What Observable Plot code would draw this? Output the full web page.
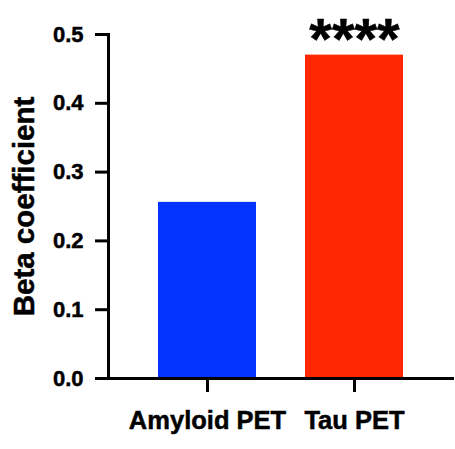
<!DOCTYPE html>
<html>
<head>
<meta charset="utf-8">
<script src="https://cdn.jsdelivr.net/npm/d3@7"></script>
<script src="https://cdn.jsdelivr.net/npm/@observablehq/plot@0.6"></script>
<style>
  html, body { margin: 0; padding: 0; background: #fff; }
  #chart svg { font-family: "Liberation Sans", Arial, Helvetica, sans-serif; font-weight: bold; }
  #chart svg g[aria-label$="tick label"] text,
  #chart svg g[aria-label$="axis label"] text,
  #chart svg g[aria-label="text"] text { stroke: #000; stroke-width: 0.5px; }
</style>
</head>
<body>
<div id="chart"></div>
<script>
// Beta coefficients by PET modality
const categories = ["Amyloid PET", "Tau PET"];
const betas = [0.256, 0.470];
const barColors = ["#0433FF", "#FF2600"];
const yTicks = [0, 0.1, 0.2, 0.3, 0.4, 0.5];
const significance = ["", "****"];

const data = categories.map((c, i) => ({category: c, beta: betas[i], sig: significance[i]}));

const chart = Plot.plot({
  width: 455,
  height: 449,
  marginTop: 34,
  marginBottom: 71,
  marginLeft: 108,
  marginRight: 3,
  style: {background: "#fff", color: "#000"},
  x: {domain: categories, padding: 0.335},
  y: {domain: [0, 0.5]},
  color: {domain: categories, range: barColors},
  marks: [
    Plot.barY(data, {x: "category", y: "beta", fill: "category"}),
    Plot.text(data, {
      x: "category", y: "beta", text: "sig",
      fontSize: 58, fontWeight: "bold", lineAnchor: "bottom", dy: 4, fill: "#000"
    }),
    Plot.axisY({
      ticks: yTicks, tickFormat: d3.format(".1f"),
      tickSize: 13, tickPadding: 12, strokeWidth: 3,
      fontSize: 22, fontWeight: "bold",
      label: "Beta coefficient", labelAnchor: "center", labelOffset: 95, labelArrow: false
    }),
    Plot.axisX({
      tickSize: 14, tickPadding: 18, strokeWidth: 3,
      fontSize: 25.5, fontWeight: "bold", label: null
    }),
    Plot.frame({anchor: "left", strokeWidth: 3}),
    Plot.frame({anchor: "bottom", strokeWidth: 3})
  ]
});

// axis label font size
d3.select(chart).selectAll("g[aria-label='y-axis label'] text").attr("font-size", 29.5);

document.getElementById("chart").appendChild(chart);
</script>
</body>
</html>
